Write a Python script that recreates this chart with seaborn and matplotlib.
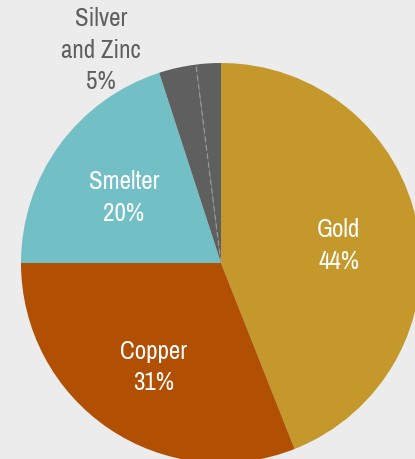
import numpy as np
import matplotlib
matplotlib.use("Agg")
import matplotlib.pyplot as plt
from matplotlib import font_manager
import seaborn as sns

# Revenue mix by segment (percent)
segments = ["Gold", "Copper", "Smelter", "Silver", "Zinc"]
shares = [44, 31, 20, 3, 2]
colors = ["#c4982a", "#b14f02", "#72bfc5", "#5f5f5f", "#5f5f5f"]

# Labels drawn on the chart
inside_labels = {"Gold": "Gold\n44%", "Copper": "Copper\n31%", "Smelter": "Smelter\n20%"}
outside_label = "Silver\nand Zinc\n5%"

sns.set_theme(style="white")
available = {f.name for f in font_manager.fontManager.ttflist}
preferred = ["Liberation Sans Narrow", "Arial Narrow", "Archivo Narrow", "Liberation Sans"]
family = next(f for f in preferred if f in available)
plt.rcParams["font.family"] = [family, "DejaVu Sans"]

bg = "#ececec"
fig = plt.figure(figsize=(4.15, 4.59), dpi=100, facecolor=bg)
ax = fig.add_axes([0, 0, 1, 1])
ax.set_facecolor(bg)

wedges, _ = ax.pie(shares, colors=colors, startangle=90, counterclock=False,
                   radius=1.0, center=(0, 0), frame=True,
                   wedgeprops=dict(linewidth=0, edgecolor="none"))

# Label positions from wedge mid-angles
for w, name in zip(wedges, segments):
    if name in inside_labels:
        mid = np.deg2rad((w.theta1 + w.theta2) / 2)
        r = 0.6
        ax.annotate(inside_labels[name], (r * np.cos(mid), r * np.sin(mid)),
                    xytext=(0, -3.5), textcoords="offset points",
                    ha="center", va="center", color="white", fontsize=18,
                    linespacing=1.45)

# Dashed divider between the two grey wedges
split = np.deg2rad(wedges[3].theta1)
ax.plot([0, np.cos(split)], [0, np.sin(split)], color="#9a9a9a",
        linestyle=(0, (4, 3)), linewidth=0.9)

ax.text(-0.6, 1.065, outside_label, ha="center", va="center",
        color="#5f5f5f", fontsize=18, linespacing=1.45)

ax.set_xlim(-1.105, 0.97)
ax.set_ylim(-0.98, 1.315)
ax.set_aspect("auto")
ax.axis("off")

fig.savefig("out.png", dpi=100, facecolor=bg)
